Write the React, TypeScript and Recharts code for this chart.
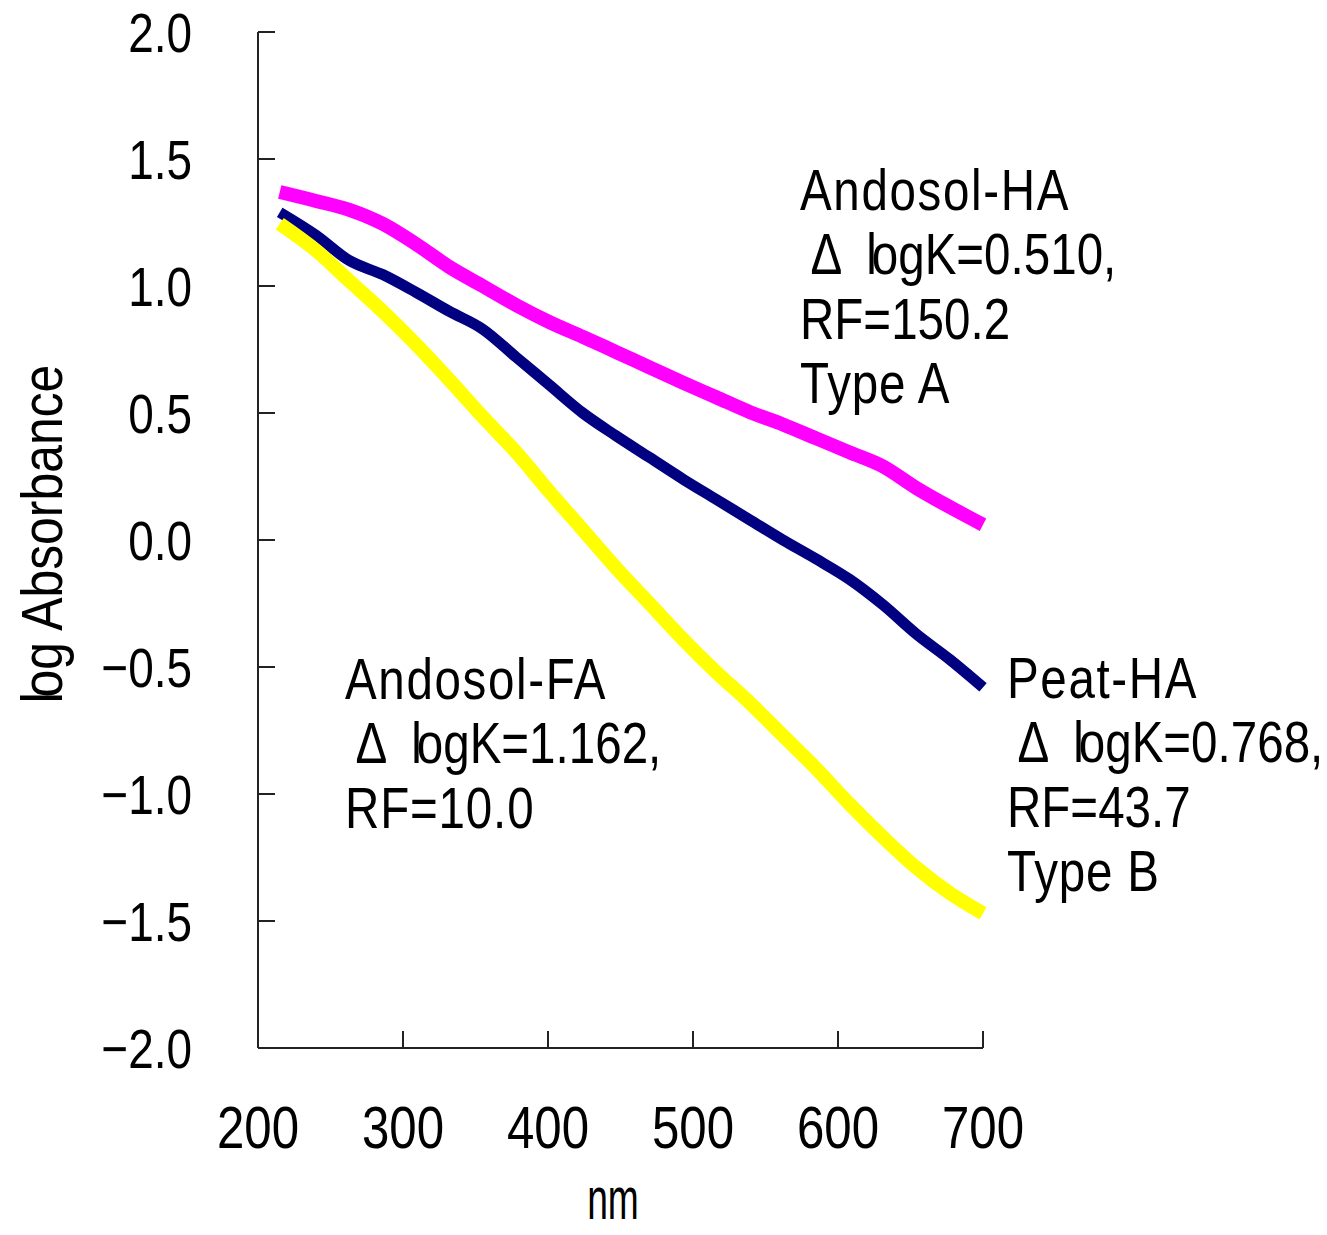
import { LineChart, Line, XAxis, YAxis } from "recharts";

// wavelength (nm) and log absorbance
const wavelengths = [215, 240, 263, 286, 309, 332, 355, 378, 401, 424, 447, 470, 493, 516, 539, 562, 585, 608, 631, 654, 677, 700];
const andosolHA = [1.37, 1.335, 1.3, 1.245, 1.165, 1.075, 1.0, 0.925, 0.858, 0.8, 0.74, 0.68, 0.62, 0.562, 0.504, 0.455, 0.4, 0.345, 0.29, 0.205, 0.13, 0.06];
const peatHA = [1.29, 1.2, 1.1, 1.045, 0.975, 0.9, 0.83, 0.72, 0.61, 0.5, 0.41, 0.325, 0.24, 0.16, 0.08, 0.0, -0.075, -0.155, -0.255, -0.37, -0.47, -0.58];
const andosolFA = [1.245, 1.14, 1.02, 0.9, 0.77, 0.63, 0.485, 0.346, 0.19, 0.04, -0.11, -0.25, -0.39, -0.52, -0.64, -0.77, -0.9, -1.04, -1.17, -1.29, -1.39, -1.47];

const xTicks = [200, 300, 400, 500, 600, 700];
const yTicks = [-2, -1.5, -1, -0.5, 0, 0.5, 1, 1.5, 2];

const notes = [
  { x: 800, y: 210, lines: ["Andosol-HA", " Δ  logK=0.510,", "RF=150.2", "Type A"] },
  { x: 1007, y: 698, lines: ["Peat-HA", " Δ  logK=0.768,", "RF=43.7", "Type B"] },
  { x: 345, y: 699, lines: ["Andosol-FA", " Δ  logK=1.162,", "RF=10.0"] },
];

const data = wavelengths.map((nm, i) => ({
  nm,
  andosolHA: andosolHA[i],
  peatHA: peatHA[i],
  andosolFA: andosolFA[i],
}));

const FONT = "'Liberation Sans', Arial, sans-serif";
const AXIS = "#222";
const SQ = 0.82; // squeeze to look like a narrow face

// the original font squeezes "l" into "o"; keep the text as "log"
function logLine(s: string, dx: number) {
  const i = s.indexOf("log");
  if (i < 0) return s;
  return (
    <>
      <tspan>{s.slice(0, i + 1)}</tspan>
      <tspan dx={dx}>{s.slice(i + 1)}</tspan>
    </>
  );
}

const fmtY = (v: number) => (v < 0 ? "\u2212" : "") + Math.abs(v).toFixed(1);

const XTick = (p: any) => (
  <text transform={`translate(${p.x},${p.y + 42.6}) scale(${SQ},1)`} textAnchor="middle" fontSize={60} fontFamily={FONT} fill="#000">
    {p.payload.value}
  </text>
);

const YTick = (p: any) => (
  <text transform={`translate(${p.x},${p.y + 20}) scale(${SQ},1)`} textAnchor="end" fontSize={56} fontFamily={FONT} fill="#000">
    {fmtY(p.payload.value)}
  </text>
);

export default function App() {
  return (
    <div style={{ position: "absolute", left: 0, top: 0, width: 1327, height: 1235, background: "#fff" }}>
      <LineChart width={1327} height={1235} data={data} margin={{ top: 32, right: 344, bottom: 0, left: 0 }}>
        <XAxis
          dataKey="nm"
          type="number"
          domain={[200, 700]}
          ticks={xTicks}
          interval={0}
          height={187}
          tickSize={-17}
          tickMargin={74}
          axisLine={{ stroke: AXIS, strokeWidth: 2 }}
          tickLine={{ stroke: AXIS, strokeWidth: 2 }}
          tick={XTick}
        />
        <YAxis
          type="number"
          domain={[-2, 2]}
          ticks={yTicks}
          interval={0}
          width={258}
          tickSize={-17}
          tickMargin={83}
          axisLine={{ stroke: AXIS, strokeWidth: 2 }}
          tickLine={{ stroke: AXIS, strokeWidth: 2 }}
          tick={YTick}
        />
        <Line dataKey="andosolHA" type="monotone" stroke="#FF00FF" strokeWidth={14} dot={false} activeDot={false} isAnimationActive={false} />
        <Line dataKey="peatHA" type="monotone" stroke="#000080" strokeWidth={11} dot={false} activeDot={false} isAnimationActive={false} />
        <Line dataKey="andosolFA" type="monotone" stroke="#FFFF00" strokeWidth={14} dot={false} activeDot={false} isAnimationActive={false} />
      </LineChart>

      <svg width={1327} height={1235} style={{ position: "absolute", left: 0, top: 0, pointerEvents: "none" }}>
        <g fontFamily={FONT} fill="#000">
          {notes.map((n) =>
            n.lines.map((l, j) => (
              <text
                key={n.lines[0] + j}
                xmlSpace="preserve"
                style={{ whiteSpace: "pre" }}
                transform={`translate(${n.x},${n.y + j * 64.3}) scale(${SQ},1)`}
                fontSize={58}
                letterSpacing={j === 0 ? 2 : j === n.lines.length - 1 ? 1 : 0}
              >
                {logLine(l, -6)}
              </text>
            ))
          )}
          <text transform="translate(613,1219) scale(0.62,1)" fontSize={60} textAnchor="middle">nm</text>
          <text transform="translate(62,534) rotate(-90) scale(0.86,1)" fontSize={58} textAnchor="middle">
            {logLine("log Absorbance", -6)}
          </text>
        </g>
      </svg>
    </div>
  );
}
